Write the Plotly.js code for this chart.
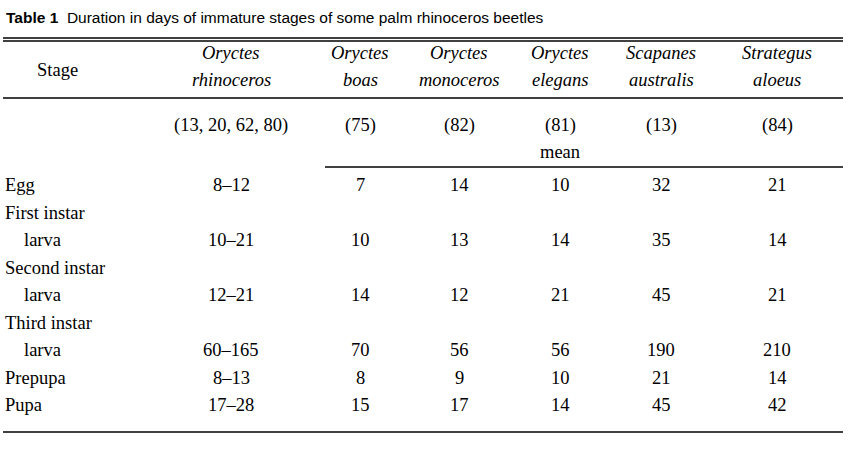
<html>
<head>
<script src="https://cdn.plot.ly/plotly-3.0.1.min.js"></script>
<style>body{margin:0;background:#fff}</style>
</head>
<body>
<div id="tabla" style="width:854px;height:449px"></div>
<script>
// DATOS
var genus = ["Oryctes", "Oryctes", "Oryctes", "Oryctes", "Scapanes", "Strategus"];
var species = ["rhinoceros", "boas", "monoceros", "elegans", "australis", "aloeus"];
var refs = ["(13, 20, 62, 80)", "(75)", "(82)", "(81)", "(13)", "(84)"];
var stages = [["Egg"], ["First instar", "larva"], ["Second instar", "larva"], ["Third instar", "larva"], ["Prepupa"], ["Pupa"]];
var valores = [
  ["8\u201312", "7", "14", "10", "32", "21"],
  ["10\u201321", "10", "13", "14", "35", "14"],
  ["12\u201321", "14", "12", "21", "45", "21"],
  ["60\u2013165", "70", "56", "56", "190", "210"],
  ["8\u201313", "8", "9", "10", "21", "14"],
  ["17\u201328", "15", "17", "14", "45", "42"]
];

var colX = [231, 360, 459, 560, 661, 777];
var fuente = {family: "Liberation Serif, Times New Roman, serif", size: 18.5, color: "#000"};
var anot = [];
function txt(x, y, t, anchor, f) {
  anot.push({x: x, y: y, text: t, showarrow: false, xanchor: anchor || "center", yanchor: "middle", font: f || fuente});
}

txt(4, 17, "<b>Table 1</b>  Duration in days of immature stages of some palm rhinoceros beetles", "left", {family: "Liberation Sans, Arial, sans-serif", size: 15.5, color: "#000"});
txt(57, 70, "Stage");
for (var i = 0; i < genus.length; i++) {
  txt(colX[i], 53, "<i>" + genus[i] + "</i>");
  txt(colX[i], 80, "<i>" + species[i] + "</i>");
  txt(colX[i], 125, refs[i]);
}
txt(colX[3], 152, "mean");

var y = 185;
for (var r = 0; r < stages.length; r++) {
  txt(3, y, stages[r][0], "left");
  if (stages[r].length > 1) { y += 27.5; txt(22, y, stages[r][1], "left"); }
  for (var c = 0; c < valores[r].length; c++) txt(colX[c], y, valores[r][c]);
  y += 27.5;
}

var linea = {color: "#000", width: 1.4};
function hl(x0, x1, yy) { return {type: "line", xref: "x", yref: "y", x0: x0, x1: x1, y0: yy, y1: yy, line: linea}; }
var shapes = [hl(3, 843, 38), hl(3, 843, 41), hl(3, 843, 98), hl(325, 843, 167), hl(3, 843, 432)];

var layout = {
  width: 854, height: 449,
  margin: {l: 0, r: 0, t: 0, b: 0},
  paper_bgcolor: "#fff", plot_bgcolor: "#fff",
  xaxis: {range: [0, 854], visible: false, fixedrange: true},
  yaxis: {range: [449, 0], visible: false, fixedrange: true},
  annotations: anot, shapes: shapes, showlegend: false
};
Plotly.newPlot("tabla", [{x: [], y: [], type: "scatter"}], layout, {staticPlot: true});
</script>
</body>
</html>
